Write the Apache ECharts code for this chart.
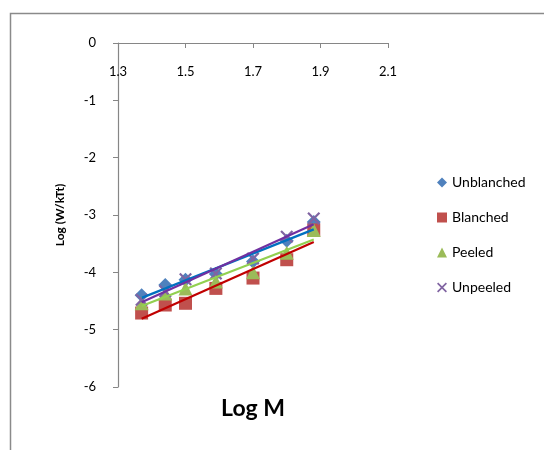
<!DOCTYPE html>
<html><head><meta charset="utf-8">
<script src="https://cdn.jsdelivr.net/npm/echarts@6/dist/echarts.min.js"></script>
<style>html,body{margin:0;padding:0;background:#fff}#c{width:544px;height:450px}</style>
</head><body><div id="c"></div>
<script>
const logM = [1.37, 1.44, 1.50, 1.59, 1.70, 1.80, 1.88];
const unblanched = [-4.40, -4.22, -4.13, -4.03, -3.81, -3.45, -3.12];
const blanched   = [-4.71, -4.57, -4.54, -4.28, -4.10, -3.78, -3.26];
const peeled     = [-4.54, -4.37, -4.28, -4.16, -4.00, -3.66, -3.26];
const unpeeled   = [-4.48, -4.33, -4.12, -4.02, -3.76, -3.38, -3.06];
const seriesNames = ['Unblanched', 'Blanched', 'Peeled', 'Unpeeled'];
const xTicks = {min: 1.3, max: 2.1, step: 0.2};
const yTicks = {min: -6, max: 0, step: 1};

const markerColors = ['#4F81BD', '#C0504D', '#9BBB59', '#8064A2'];
const lineColors = ['#0070C0', '#C00000', '#92D050', '#7030A0'];
const xPath = 'path://M0,1.2 L1.2,0 L5,3.8 L8.8,0 L10,1.2 L6.2,5 L10,8.8 L8.8,10 L5,6.2 L1.2,10 L0,8.8 L3.8,5 Z';
const symbols = ['diamond', 'rect', 'triangle', xPath];
const sizes = [14, 13, 14, 13];
const allY = [unblanched, blanched, peeled, unpeeled];

function fit(xs, ys) {
  const n = xs.length;
  const mx = xs.reduce((a, b) => a + b, 0) / n;
  const my = ys.reduce((a, b) => a + b, 0) / n;
  let sxy = 0, sxx = 0;
  for (let i = 0; i < n; i++) { sxy += (xs[i] - mx) * (ys[i] - my); sxx += (xs[i] - mx) ** 2; }
  const b = sxy / sxx, a = my - b * mx;
  const x0 = Math.min(...xs), x1 = Math.max(...xs);
  return [[x0, a + b * x0], [x1, a + b * x1]];
}

const series = [];
allY.forEach((ys, i) => {
  series.push({
    name: seriesNames[i], type: 'scatter', symbol: symbols[i], symbolSize: sizes[i],
    itemStyle: {color: markerColors[i], opacity: 1}, z: 2 + i,
    data: logM.map((x, k) => [x, ys[k]])
  });
});
allY.forEach((ys, i) => {
  series.push({
    type: 'line', showSymbol: false, symbol: 'none', z: 10 + i,
    lineStyle: {color: lineColors[i], width: 2.2}, silent: true,
    data: fit(logM, ys)
  });
});

const chart = echarts.init(document.getElementById('c'), null, {renderer: 'canvas'});
const FONT = 'Lato';
chart.setOption({
  animation: false,
  backgroundColor: '#fff',
  graphic: [
    {type: 'rect', shape: {x: 10.5, y: 13.5, width: 700, height: 600},
     style: {fill: 'none', stroke: '#8a8a8a', lineWidth: 1.5}, silent: true},
    {type: 'text', x: 253, y: 409,
     style: {text: 'Log M', font: 'bold 23px ' + FONT, fill: '#000', align: 'center', verticalAlign: 'middle'}}
  ],
  grid: {left: 118, top: 43, width: 270, height: 344},
  legend: {
    orient: 'vertical', left: 437, top: 174, padding: 0, itemGap: 18, itemWidth: 10, itemHeight: 10,
    data: seriesNames.map((n, i) => ({name: n, icon: i === 3 ? xPath : symbols[i]})),
    textStyle: {fontFamily: FONT, fontSize: 14, color: '#000', lineHeight: 17}
  },
  xAxis: {
    type: 'value', position: 'top', min: xTicks.min, max: xTicks.max, interval: xTicks.step,
    axisLine: {onZero: false, lineStyle: {color: '#868686', width: 1.2}},
    axisTick: {show: true, inside: true, length: 5, lineStyle: {color: '#868686'}},
    axisLabel: {inside: true, margin: 22, fontFamily: FONT, fontSize: 13, color: '#000', formatter: v => v.toFixed(1)},
    splitLine: {show: false}
  },
  yAxis: {
    type: 'value', min: yTicks.min, max: yTicks.max, interval: yTicks.step,
    name: 'Log (W/kTt)', nameLocation: 'middle', nameGap: 52, nameRotate: 90,
    nameTextStyle: {fontFamily: FONT, fontSize: 12, fontWeight: 'bold', color: '#000'},
    axisLine: {show: true, onZero: false, lineStyle: {color: '#868686', width: 1.2}},
    axisTick: {show: true, length: 5, lineStyle: {color: '#868686'}},
    axisLabel: {margin: 22, fontFamily: FONT, fontSize: 13, color: '#000'},
    splitLine: {show: false}
  },
  series: series
});
</script></body></html>
